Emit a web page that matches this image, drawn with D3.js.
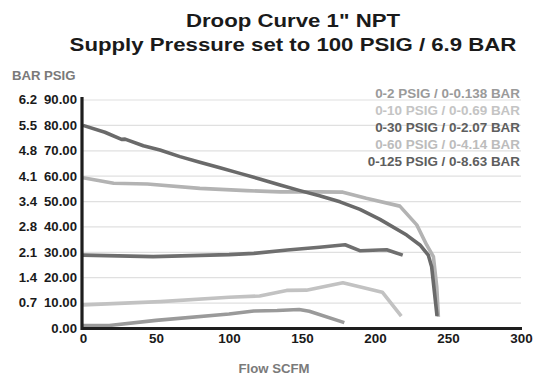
<!DOCTYPE html>
<html>
<head>
<meta charset="utf-8">
<script src="https://cdn.jsdelivr.net/npm/d3@7"></script>
<style>
  html, body { margin: 0; padding: 0; background: #fff; }
  svg { display: block; font-family: "Liberation Sans", Arial, Helvetica, sans-serif; }
</style>
</head>
<body>
<svg id="chart" width="542" height="376"></svg>
<script>
// ---------- data ----------
const seriesNames = ["0-2 PSIG / 0-0.138 BAR", "0-10 PSIG / 0-0.69 BAR", "0-30 PSIG / 0-2.07 BAR", "0-60 PSIG / 0-4.14 BAR", "0-125 PSIG / 0-8.63 BAR"];
const seriesColors = ["#9a9a9a", "#c2c2c2", "#6f6f6f", "#b3b3b3", "#6a6a6a"];
const legendColors = ["#9a9a9a", "#c4c4c4", "#5e5e5e", "#bcbcbc", "#5e5e5e"];

const flow2   = [0, 18, 50, 100, 117, 133, 148, 155, 179];
const psig2   = [1.2, 1.2, 3.2, 5.7, 6.9, 7.1, 7.5, 6.8, 2.3];

const flow10  = [0, 53, 100, 121, 139.5, 153, 178, 205, 218];
const psig10  = [9.3, 10.6, 12.3, 12.8, 15.0, 15.1, 18.0, 14.3, 4.9];

const flow30  = [0, 48, 100, 117, 140, 162, 179.5, 190, 203, 208, 219];
const psig30  = [28.9, 28.3, 29.1, 29.6, 30.9, 32.0, 33.0, 30.6, 30.9, 31.0, 28.9];

const flow60  = [0, 21, 44, 80, 112, 135, 162, 178, 194, 217, 228.6, 235.4, 240, 242.3, 243.4];
const psig60  = [59.4, 57.2, 56.9, 55.2, 54.3, 53.8, 53.8, 53.7, 51.3, 48.2, 40.8, 32.9, 28.3, 16.5, 4.6];

const flow125 = [0, 15, 26.4, 28.8, 41.3, 52.7, 66.4, 80, 93.8, 107.5, 121, 135, 148.6, 162, 176, 189.7, 203.4, 221.7, 230.8, 236.5, 238.8, 242.5];
const psig125 = [80, 77.3, 74.5, 74.6, 72.0, 70.3, 67.7, 65.5, 63.3, 61.1, 58.9, 56.5, 54.3, 52.3, 49.9, 46.9, 43.0, 36.8, 32.9, 28.9, 24.3, 4.9];

const xTicks = [0, 50, 100, 150, 200, 250, 300];
const yTicks = [0, 10, 20, 30, 40, 50, 60, 70, 80, 90];
const barLabels = ["", "0.7", "1.4", "2.1", "2.8", "3.4", "4.1", "4.8", "5.5", "6.2"];

const titleLines = ["Droop Curve 1\" NPT", "Supply Pressure set to 100 PSIG / 6.9 BAR"];
const xTitle = "Flow SCFM";
const yTitles = ["BAR", "PSIG"];

const flows = [flow2, flow10, flow30, flow60, flow125];
const psigs = [psig2, psig10, psig30, psig60, psig125];

// ---------- chart ----------
const svg = d3.select("#chart");
const x = d3.scaleLinear().domain([0, 300]).range([83, 521]);
const y = d3.scaleLinear().domain([0, 90]).range([328.5, 100]);

// horizontal stretch of text around its anchor x (the reference type is wide)
function stretch(sel, sx) {
  sel.each(function() {
    const t = d3.select(this);
    const ax = +t.attr("x") || 0;
    const prev = t.attr("transform") || "";
    t.attr("transform", prev + ` translate(${ax},0) scale(${sx},1) translate(${-ax},0)`);
  });
}

// title
const titles = svg.selectAll("text.title").data(titleLines).enter().append("text")
  .attr("class", "title")
  .attr("x", 293)
  .attr("y", (d, i) => i === 0 ? 27 : 51)
  .attr("text-anchor", "middle")
  .attr("font-size", 19).attr("font-weight", "bold").attr("fill", "#1a1a1a")
  .text(d => d);
stretch(titles, 1.17);

// gridlines
svg.append("g").selectAll("line").data(yTicks.filter(t => t > 0)).enter().append("line")
  .attr("x1", x(0)).attr("x2", x(300))
  .attr("y1", d => y(d)).attr("y2", d => y(d))
  .attr("stroke", "#e0e0e0").attr("stroke-width", 1.2);

// legend
const leg = svg.append("g").selectAll("text").data(seriesNames).enter().append("text")
  .attr("x", 520)
  .attr("y", (d, i) => 98 + i * 17.1)
  .attr("text-anchor", "end")
  .attr("font-size", 12).attr("font-weight", "bold")
  .attr("fill", (d, i) => legendColors[i])
  .text(d => d);
stretch(leg, 1.12);

// lines
const line = d3.line().x(d => x(d[0])).y(d => y(d[1])).curve(d3.curveLinear);
svg.append("g").selectAll("path").data(flows.map((f, i) => f.map((v, j) => [v, psigs[i][j]]))).enter().append("path")
  .attr("d", line)
  .attr("fill", "none")
  .attr("stroke", (d, i) => seriesColors[i])
  .attr("stroke-width", 3.6)
  .attr("stroke-linejoin", "round");

// x axis
const xAxis = d3.axisBottom(x).tickValues(xTicks).tickSize(0).tickPadding(6).tickFormat(d3.format("d"));
const gx = svg.append("g").attr("transform", "translate(0,328.5)").call(xAxis);
gx.select(".domain").attr("stroke", "#1e1e1e").attr("stroke-width", 3.2).attr("d", "M81.5,0H522");
gx.selectAll("text").attr("font-size", 12).attr("font-weight", "bold").attr("fill", "#1a1a1a").attr("font-family", null);
stretch(gx.selectAll("text"), 1.12);

// y axis (PSIG)
const yAxis = d3.axisLeft(y).tickValues(yTicks).tickSize(0).tickPadding(5).tickFormat(d3.format(".2f"));
const gy = svg.append("g").attr("transform", "translate(82,0)").call(yAxis);
gy.select(".domain").attr("stroke", "#1e1e1e").attr("stroke-width", 3.2).attr("d", "M0,97V330");
gy.selectAll("text").attr("font-size", 12).attr("font-weight", "bold").attr("fill", "#1a1a1a").attr("font-family", null);
stretch(gy.selectAll("text"), 1.1);

// y axis (BAR)
const yBar = d3.axisLeft(y).tickValues(yTicks).tickSize(0).tickPadding(0).tickFormat((d, i) => barLabels[i]);
const gb = svg.append("g").attr("transform", "translate(37,0)").call(yBar);
gb.select(".domain").remove();
gb.selectAll("text").attr("font-size", 12).attr("font-weight", "bold").attr("fill", "#1a1a1a").attr("font-family", null);
stretch(gb.selectAll("text"), 1.1);

// axis titles
const t1 = svg.append("text").attr("x", 12).attr("y", 80).attr("font-size", 12).attr("font-weight", "bold").attr("fill", "#7a7a7a").text(yTitles[0]);
const t2 = svg.append("text").attr("x", 44).attr("y", 80).attr("font-size", 12).attr("font-weight", "bold").attr("fill", "#7a7a7a").text(yTitles[1]);
const t3 = svg.append("text").attr("x", 274).attr("y", 373).attr("text-anchor", "middle").attr("font-size", 12).attr("font-weight", "bold").attr("fill", "#7a7a7a").text(xTitle);
stretch(t1, 1.1); stretch(t2, 1.1); stretch(t3, 1.1);
</script>
</body>
</html>
